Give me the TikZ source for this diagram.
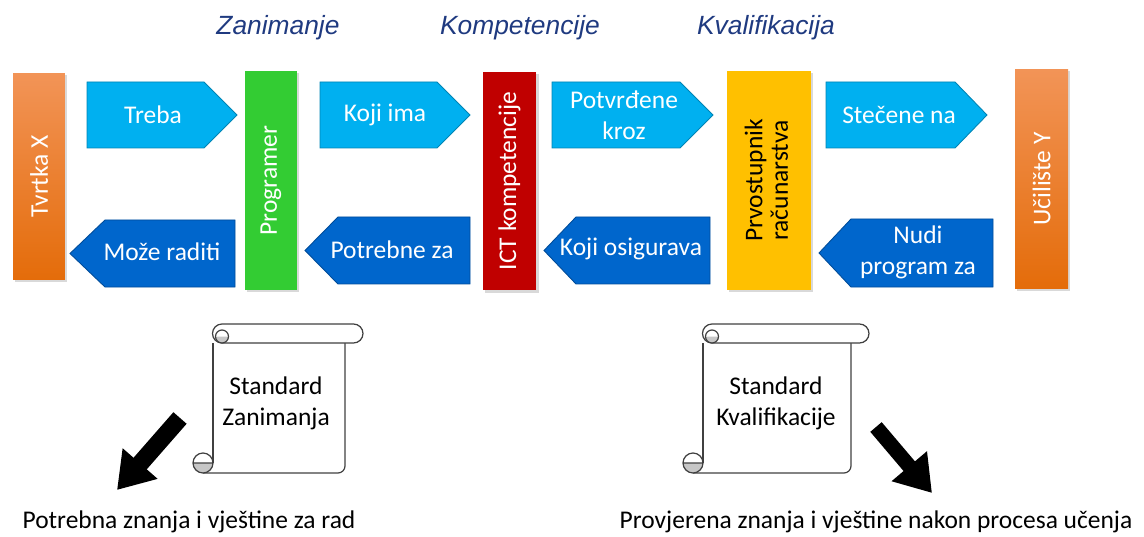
\documentclass[tikz,border=0pt]{standalone}
\usepackage{fontspec}
\setmainfont{Carlito}
\newfontfamily\headfont{Liberation Sans}
\usetikzlibrary{arrows.meta,shadows}
\definecolor{lblue}{HTML}{00B0F0}
\definecolor{dblue}{HTML}{0066CC}
\definecolor{orangetop}{HTML}{F29457}
\definecolor{orangebot}{HTML}{E46C0A}
\definecolor{grn}{HTML}{33CC33}
\definecolor{ictred}{HTML}{C00000}
\definecolor{yel}{HTML}{FFC000}
\definecolor{navy}{HTML}{1F3A80}
\newcommand{\txtsize}{\fontsize{14.5}{17.5}\selectfont}

\begin{document}
\begin{tikzpicture}[x=0.02cm, y=-0.02cm,
  bar/.style={inner sep=0pt, minimum width=10.4mm, minimum height=43.8mm, font=\txtsize, text=white,
    drop shadow={shadow xshift=1.2pt, shadow yshift=-1.2pt, opacity=0.3}},
  orangebar/.style={bar, top color=orangetop, bottom color=orangebot},
  fwd/.style={fill=lblue, draw=lblue!75!black, line width=0.5pt},
  bwd/.style={fill=dblue, draw=dblue!75!black, line width=0.5pt},
  atxt/.style={font=\txtsize, text=white, align=center, inner sep=1pt},
  head/.style={font=\headfont\itshape\fontsize{15}{18}\selectfont, text=navy},
  note/.style={font=\txtsize, align=center},
  paper/.style={draw=black!75, line width=0.7pt},
  curl/.style={fill=black!22},
  bigarrow/.style={line width=#1, -{Triangle[length=20pt, width=25pt]}}
]
\useasboundingbox (0,0) rectangle (1144,537);

% headings
\node[head] (hzan) at (278,28) {Zanimanje};
\node[head] (hkom) at (520,28) {Kompetencije};
\node[head] (hkva) at (766,28) {Kvalifikacija};

% vertical bars
\node[orangebar, minimum height=41.4mm] (tvrtka) at (39,176.5) {\rotatebox{90}{Tvrtka X}};
\node[bar, fill=grn] (prog) at (271,180.5) {\rotatebox{90}{Programer}};
\node[bar, fill=ictred, minimum width=10.8mm] (ict) at (509.5,181) {\rotatebox{90}{ICT kompetencije}};
\node[bar, fill=yel, minimum width=16.8mm, text=black] (prvo) at (769,180.5)
  {\rotatebox{90}{\begin{tabular}{@{}c@{}}Prvostupnik\\[-3pt]računarstva\end{tabular}}};
\node[orangebar, minimum width=10.6mm, minimum height=44mm] (ucil) at (1041.5,179) {\rotatebox{90}{Učilište Y}};

% block arrows, upper row
\draw[fwd] (87,82) -- (204,82) -- (237,115) -- (204,148) -- (87,148) -- cycle;
\draw[fwd] (320,82) -- (437,82) -- (470,115) -- (437,148) -- (320,148) -- cycle;
\draw[fwd] (552,82) -- (680,82) -- (713,115) -- (680,148) -- (552,148) -- cycle;
\draw[fwd] (826,82) -- (955,82) -- (987,115) -- (955,148) -- (826,148) -- cycle;
\node[atxt] (treba) at (153,115) {Treba};
\node[atxt] (kojiima) at (385,115) {Koji ima};
\node[atxt] (potvr) at (624,115) {Potvrđene\\kroz};
\node[atxt] (stec) at (899,115) {Stečene na};

% block arrows, lower row
\draw[bwd] (235,220) -- (105,220) -- (70,253.5) -- (105,287) -- (235,287) -- cycle;
\draw[bwd] (470,217) -- (338,217) -- (305,250.5) -- (338,284) -- (470,284) -- cycle;
\draw[bwd] (710,217) -- (576,217) -- (544,250.5) -- (576,284) -- (710,284) -- cycle;
\draw[bwd] (993,219) -- (851,219) -- (819,253) -- (851,287) -- (993,287) -- cycle;
\node[atxt] (moze) at (162,252) {Može raditi};
\node[atxt] (potreb) at (392,250) {Potrebne za};
\node[atxt] (osig) at (631,249) {Koji osigurava};
\node[atxt] (nudi) at (918,252) {Nudi\\program za};

% scroll 1
\draw[paper] (213,343) -- (213,463);
\draw[paper, rounded corners=4pt] (203,473) -- (345,473) -- (345,343);
\draw[paper, fill=white] (222,324) -- (353.5,324) arc(-90:90:9.5) -- (222,343) arc(90:270:9.5);
\fill[curl] (215.5,336.5) arc(180:0:6.5) -- cycle;
\draw[paper] (222,336.5) circle (6.5);
\fill[white] (203,463) circle (10);
\fill[curl] (193,463) arc(180:0:10) -- cycle;
\draw[paper] (203,463) circle (10) (193,463) -- (213,463);
\node[note] (stdzan) at (276,403) {Standard\\Zanimanja};

% scroll 2
\draw[paper] (703,343) -- (703,463);
\draw[paper, rounded corners=4pt] (693,473) -- (851,473) -- (851,343);
\draw[paper, fill=white] (712,324) -- (859.5,324) arc(-90:90:9.5) -- (712,343) arc(90:270:9.5);
\fill[curl] (705.5,336.5) arc(180:0:6.5) -- cycle;
\draw[paper] (712,336.5) circle (6.5);
\fill[white] (693,463) circle (10);
\fill[curl] (683,463) arc(180:0:10) -- cycle;
\draw[paper] (693,463) circle (10) (683,463) -- (703,463);
\node[note] (stdkva) at (776,403) {Standard\\Kvalifikacije};

% big black arrows
\coordinate (a1s) at (180,418);
\coordinate (a1e) at (117,490);
\coordinate (a2s) at (876,427);
\coordinate (a2e) at (932,493);
\draw[bigarrow=10pt] (a1s) -- (a1e);
\draw[bigarrow=8.5pt] (a2s) -- (a2e);

% results
\node[note] (znanja) at (189,522) {Potrebna znanja i vještine za rad};
\node[note] (provj) at (876,522) {Provjerena znanja i vještine nakon procesa učenja};
\end{tikzpicture}
\end{document}
